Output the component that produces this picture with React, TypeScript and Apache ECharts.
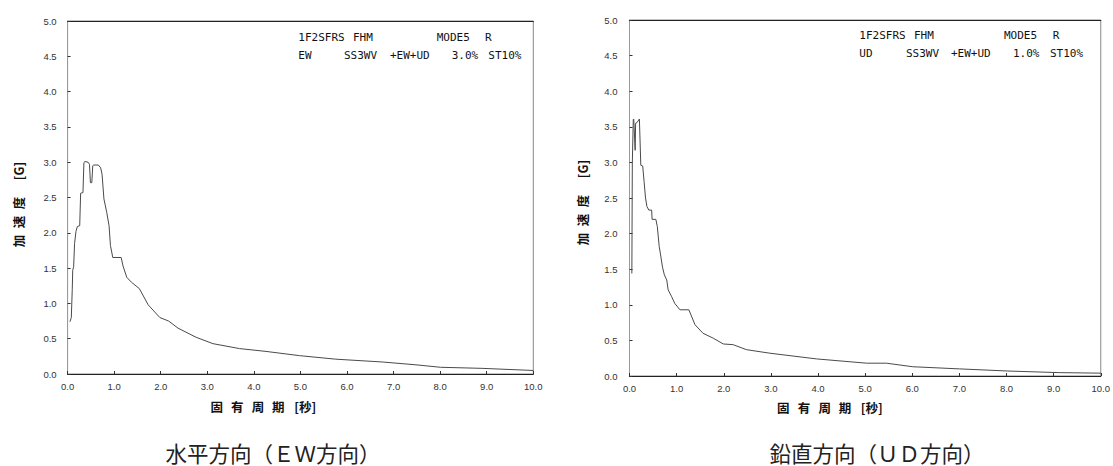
import React, { useEffect, useRef } from "react";
import * as echarts from "echarts";

// ---- data ----
const ewPeriods = [0.05, 0.08, 0.1, 0.11, 0.13, 0.15, 0.18, 0.21, 0.26, 0.28, 0.33, 0.35, 0.37, 0.44, 0.47, 0.49, 0.52, 0.54, 0.56, 0.66, 0.71, 0.74, 0.78, 0.84, 0.89, 0.92, 0.97, 1.15, 1.19, 1.27, 1.37, 1.54, 1.73, 1.98, 2.17, 2.37, 2.76, 3.12, 3.69, 4.26, 4.98, 5.76, 6.76, 7.48, 8.01, 8.9, 10.0];
const ewAccel = [0.74, 0.8, 1.2, 1.47, 1.52, 1.85, 2.02, 2.09, 2.1, 2.56, 2.57, 2.99, 3.01, 3.0, 2.97, 2.71, 2.71, 2.95, 2.96, 2.96, 2.92, 2.83, 2.48, 2.29, 2.1, 1.82, 1.65, 1.65, 1.53, 1.37, 1.3, 1.21, 0.98, 0.8, 0.75, 0.65, 0.52, 0.43, 0.36, 0.32, 0.26, 0.21, 0.17, 0.13, 0.095, 0.08, 0.05];

const udPeriods = [0.05, 0.06, 0.08, 0.09, 0.12, 0.13, 0.16, 0.2, 0.21, 0.24, 0.28, 0.31, 0.34, 0.37, 0.41, 0.47, 0.48, 0.56, 0.59, 0.63, 0.66, 0.7, 0.74, 0.79, 0.82, 0.89, 0.96, 1.07, 1.26, 1.39, 1.56, 1.78, 1.99, 2.2, 2.48, 2.98, 3.97, 5.03, 5.45, 6.01, 7.0, 8.03, 9.13, 10.0];
const udAccel = [1.44, 2.99, 3.6, 3.61, 3.17, 3.55, 3.56, 3.6, 3.61, 2.96, 2.95, 2.73, 2.5, 2.38, 2.33, 2.33, 2.2, 2.2, 2.1, 1.82, 1.7, 1.53, 1.42, 1.35, 1.21, 1.12, 1.02, 0.93, 0.93, 0.72, 0.6, 0.53, 0.45, 0.44, 0.37, 0.32, 0.24, 0.18, 0.18, 0.13, 0.1, 0.07, 0.047, 0.04];

const xAxisTitleChars = ["固", "有", "周", "期", "[秒]"];
const yAxisTitleChars = ["加", "速", "度", "[G]"];
const ewInfoLine1 = ["1F2SFRS", "FHM", "MODE5", "R"];
const ewInfoLine2 = ["EW", "SS3WV", "+EW+UD", "3.0%", "ST10%"];
const udInfoLine1 = ["1F2SFRS", "FHM", "MODE5", "R"];
const udInfoLine2 = ["UD", "SS3WV", "+EW+UD", "1.0%", "ST10%"];
const ewCaption = "水平方向（ＥＷ方向）";
const udCaption = "鉛直方向（ＵＤ方向）";

const zip = (xs: number[], ys: number[]) => xs.map((x, i) => [x, ys[i]]);

const labelFont = "'Liberation Sans', Arial, sans-serif";
const cjk = "'Noto Sans CJK JP', sans-serif";
const mono = "'DejaVu Sans Mono', monospace";

function makeXAxis(gridIndex: number) {
  return {
    type: "value",
    gridIndex,
    min: 0,
    max: 10,
    interval: 1,
    axisLine: { show: true, lineStyle: { color: "#222", width: 1.2 } },
    axisTick: { show: true, inside: true, length: 3, lineStyle: { color: "#333" } },
    axisLabel: {
      color: "#333",
      fontSize: 9.5,
      fontFamily: labelFont,
      margin: 7,
      formatter: (v: number) => v.toFixed(1),
    },
    splitLine: { show: false },
  };
}
function makeTopAxis(gridIndex: number) {
  return {
    type: "value",
    gridIndex,
    position: "top",
    min: 0,
    max: 10,
    axisLine: { show: true, lineStyle: { color: "#222", width: 1.2 } },
    axisTick: { show: false },
    axisLabel: { show: false },
    splitLine: { show: false },
  };
}
function makeYAxis(gridIndex: number, margin: number) {
  return {
    type: "value",
    gridIndex,
    min: 0,
    max: 5,
    interval: 0.5,
    axisLine: { show: true, lineStyle: { color: "#999", width: 1 } },
    axisTick: { show: true, inside: true, length: 3, lineStyle: { color: "#333" } },
    axisLabel: {
      color: "#333",
      fontSize: 9.5,
      fontFamily: labelFont,
      margin,
      formatter: (v: number) => v.toFixed(1),
    },
    splitLine: { show: false },
  };
}

function tokens(words: string[], xs: number[], y: number) {
  return words.map((w, i) => ({
    type: "text",
    x: xs[i],
    y,
    style: { text: w, font: `11px ${mono}`, fill: "#111", textVerticalAlign: "middle" },
  }));
}

function xTitle(x0: number, y: number) {
  const offs = [0, 20.6, 41.4, 61.6, 88.5];
  return xAxisTitleChars.map((c, i) => ({
    type: "text",
    x: x0 + offs[i],
    y,
    style: {
      text: c,
      font: `bold 12.5px ${cjk}`,
      fill: "#111",
      textAlign: "center",
      textVerticalAlign: "middle",
    },
  }));
}

function yTitle(x: number, y0: number) {
  const offs = [0, -19, -38, -70];
  return yAxisTitleChars.map((c, i) => ({
    type: "text",
    x,
    y: y0 + offs[i],
    rotation: Math.PI / 2,
    style: {
      text: c,
      font: `bold 12.5px ${cjk}`,
      fill: "#111",
      textAlign: "center",
      textVerticalAlign: "middle",
    },
  }));
}

export default function App() {
  const ref = useRef<HTMLDivElement>(null);
  useEffect(() => {
    if (!ref.current) return;
    const chart = echarts.init(ref.current, null, { renderer: "svg" });
    chart.setOption({
      animation: false,
      backgroundColor: "#fff",
      grid: [
        { left: 67.6, top: 21, width: 465.7, height: 353, show: true, borderColor: "#888", borderWidth: 1 },
        { left: 629.5, top: 20, width: 471.5, height: 356, show: true, borderColor: "#888", borderWidth: 1 },
      ],
      xAxis: [makeXAxis(0), makeXAxis(1), makeTopAxis(0), makeTopAxis(1)],
      yAxis: [makeYAxis(0, 11), makeYAxis(1, 12)],
      series: [
        {
          type: "line",
          xAxisIndex: 0,
          yAxisIndex: 0,
          data: zip(ewPeriods, ewAccel),
          showSymbol: false,
          symbol: "none",
          lineStyle: { color: "#4a4a4a", width: 1 },
        },
        {
          type: "line",
          xAxisIndex: 1,
          yAxisIndex: 1,
          data: zip(udPeriods, udAccel),
          showSymbol: false,
          symbol: "none",
          lineStyle: { color: "#4a4a4a", width: 1 },
        },
      ],
      graphic: [
        ...tokens(ewInfoLine1, [298.3, 353, 436.7, 485], 37),
        ...tokens(ewInfoLine2, [298.3, 344, 390, 451.7, 488.3], 55.5),
        ...tokens(udInfoLine1, [859.3, 914, 1004, 1052.7], 35.5),
        ...tokens(udInfoLine2, [859.3, 906, 951, 1013, 1050], 53.5),
        ...xTitle(216.7, 406),
        ...xTitle(783.3, 407),
        ...yTitle(18, 241),
        ...yTitle(582, 239),
        {
          type: "text",
          x: 273,
          y: 452,
          style: { text: ewCaption, font: `21.5px ${cjk}`, fill: "#222", textAlign: "center", textVerticalAlign: "middle" },
        },
        {
          type: "text",
          x: 877,
          y: 452,
          style: { text: udCaption, font: `21.5px ${cjk}`, fill: "#222", textAlign: "center", textVerticalAlign: "middle" },
        },
      ],
    });
    return () => chart.dispose();
  }, []);
  return (
    <div
      ref={ref}
      style={{ position: "absolute", left: 0, top: 0, width: 1113, height: 466, background: "#fff" }}
    />
  );
}
